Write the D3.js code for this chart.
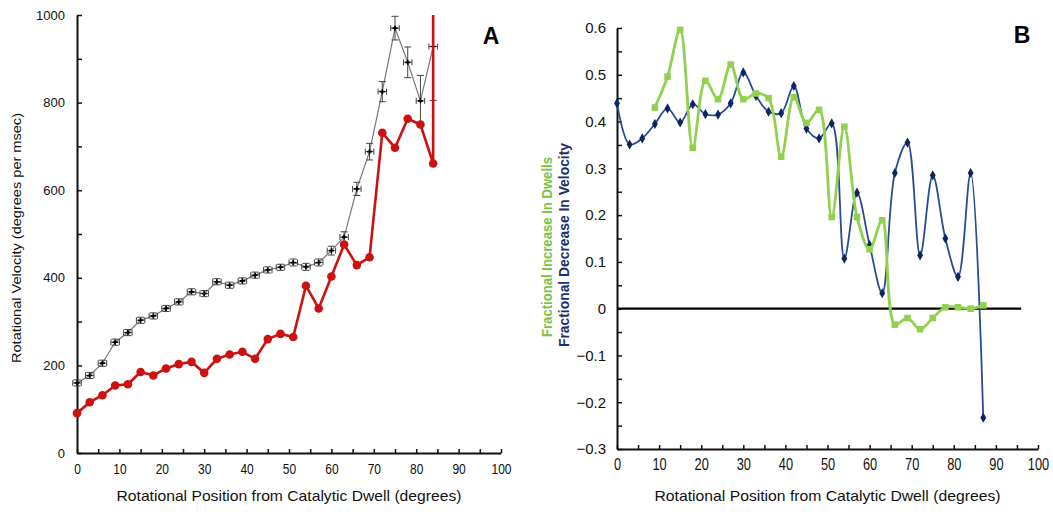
<!DOCTYPE html>
<html><head><meta charset="utf-8">
<script src="https://cdn.jsdelivr.net/npm/d3@7"></script>
<style>body{margin:0;background:#fff}svg{display:block}</style>
</head><body><svg id="c" width="1053" height="520"></svg>
<script>
// ---------- Panel A data ----------
const posA = [0,3,6,9,12,15,18,21,24,27,30,33,36,39,42,45,48,51,54,57,60,63,66,69,72,75,78,81,84];
const velGray = [160,177,205,253,275,303,313,330,345,368,364,391,383,393,406,418,424,435,425,435,462,493,603,688,825,970,892,804,928];
const errGrayY = [7,7,7,7,7,7,7,7,7,7,7,7,7,7,7,7,7,8,8,8,10,12,15,19,23,27,35,58,123];
const errGrayX = [1,1,1,1,1,1,1,1,1,1,1,1,1,1,1,1,1,1,1,1,1,1,1,1,1,1,1,1,1];
const posRed = [0,3,6,9,12,15,18,21,24,27,30,33,36,39,42,45,48,51,54,57,60,63,66,69,72,75,78,81,84,84];
const velRed = [91,116,132,154,157,185,177,193,203,208,183,215,225,231,215,260,272,265,382,330,403,476,429,447,731,697,763,750,661,1500];
const yTicksA = [0,100,200,300,400,500,600,700,800,900,1000];
const yLabelsA = [0,200,400,600,800,1000];
const xTicks = [0,5,10,15,20,25,30,35,40,45,50,55,60,65,70,75,80,85,90,95,100];
const xLabels = [0,10,20,30,40,50,60,70,80,90,100];

// ---------- Panel B data ----------
const posNavy = [0,3,6,9,12,15,18,21,24,27,30,33,36,39,42,45,48,51,54,57,60,63,66,69,72,75,78,81,84,87];
const fracVel = [0.439,0.351,0.364,0.395,0.428,0.398,0.437,0.416,0.415,0.439,0.505,0.455,0.421,0.418,0.476,0.385,0.364,0.396,0.107,0.248,0.136,0.033,0.290,0.355,0.114,0.285,0.150,0.068,0.290,-0.233];
const posGreen = [9,12,15,18,21,24,27,30,33,36,39,42,45,48,51,54,57,60,63,66,69,72,75,78,81,84,87];
const fracDwell = [0.430,0.496,0.596,0.344,0.487,0.448,0.522,0.448,0.460,0.450,0.325,0.452,0.397,0.425,0.196,0.389,0.196,0.127,0.189,-0.034,-0.020,-0.044,-0.020,0.003,0.003,0.000,0.007];
const yTicksB = [-0.3,-0.25,-0.2,-0.15,-0.1,-0.05,0,0.05,0.1,0.15,0.2,0.25,0.3,0.35,0.4,0.45,0.5,0.55,0.6];
const yLabelsB = [-0.3,-0.2,-0.1,0,0.1,0.2,0.3,0.4,0.5,0.6];
const zeroLineB = [0,96];

const svg = d3.select("#c");
svg.append("rect").attr("width",1053).attr("height",520).attr("fill","#fff");
const narrow = "'Liberation Sans Narrow','Arial Narrow','Liberation Sans',Arial,sans-serif";
const sans = "'Liberation Sans',Arial,sans-serif";

// ---------- Panel A ----------
const xA = d3.scaleLinear([0,100],[77,501]);
const yA = d3.scaleLinear([0,1000],[453,15]);
const gA = svg.append("g");
svg.append("defs").append("clipPath").attr("id","clipA").append("rect")
  .attr("x",xA(0)-8).attr("y",yA(1000)).attr("width",xA(100)-xA(0)+16).attr("height",yA(0)-yA(1000)+8);

const axA_y = gA.append("g").attr("transform",`translate(${xA(0)},0)`)
  .call(d3.axisLeft(yA).tickValues(yTicksA).tickSizeInner(-5).tickSizeOuter(0).tickPadding(12)
    .tickFormat(d => yLabelsA.includes(d) ? d : ""));
const axA_x = gA.append("g").attr("transform",`translate(0,${yA(0)})`)
  .call(d3.axisBottom(xA).tickValues(xTicks).tickSizeInner(-4).tickSizeOuter(0).tickPadding(10)
    .tickFormat(d => xLabels.includes(d) ? d : ""));
[axA_y, axA_x].forEach(a => {
  a.select(".domain").attr("stroke","#111").attr("stroke-width",2);
  a.selectAll(".tick line").attr("stroke","#111").attr("stroke-width",1.5);
});
axA_y.selectAll("text").attr("font-family",sans).attr("font-size",13).attr("fill","#111");
axA_x.selectAll("text").attr("font-family",narrow).attr("font-size",15).attr("fill","#111")
  .attr("transform","scale(0.8,1)");

const plotA = gA.append("g").attr("clip-path","url(#clipA)");
// gray series
plotA.append("path").datum(posA.map((p,i)=>[p,velGray[i]]))
  .attr("d", d3.line().x(d=>xA(d[0])).y(d=>yA(d[1])))
  .attr("fill","none").attr("stroke","#777").attr("stroke-width",1.2);
const eb = plotA.append("g").attr("stroke","#444").attr("stroke-width",1).attr("fill","none");
posA.forEach((p,i) => {
  const cx = xA(p), cy = yA(velGray[i]);
  const y1 = yA(velGray[i]-errGrayY[i]), y2 = yA(velGray[i]+errGrayY[i]);
  const x1 = xA(p-errGrayX[i]), x2 = xA(p+errGrayX[i]);
  eb.append("line").attr("x1",cx).attr("x2",cx).attr("y1",y1).attr("y2",y2);
  eb.append("line").attr("x1",cx-3.5).attr("x2",cx+3.5).attr("y1",y1).attr("y2",y1);
  eb.append("line").attr("x1",cx-3.5).attr("x2",cx+3.5).attr("y1",y2).attr("y2",y2);
  eb.append("line").attr("x1",x1).attr("x2",x2).attr("y1",cy).attr("y2",cy);
  eb.append("line").attr("x1",x1).attr("x2",x1).attr("y1",cy-3).attr("y2",cy+3);
  eb.append("line").attr("x1",x2).attr("x2",x2).attr("y1",cy-3).attr("y2",cy+3);
});
plotA.append("g").selectAll("path").data(posA.map((p,i)=>[p,velGray[i]])).join("path")
  .attr("transform",d=>`translate(${xA(d[0])},${yA(d[1])})`)
  .attr("d", d3.symbol(d3.symbolCross).size(14)).attr("fill","#000");
// red series
plotA.append("path").datum(posRed.map((p,i)=>[p,velRed[i]]))
  .attr("d", d3.line().x(d=>xA(d[0])).y(d=>yA(d[1])))
  .attr("fill","none").attr("stroke","#cc1111").attr("stroke-width",2.6);
plotA.append("g").selectAll("circle").data(posRed.map((p,i)=>[p,velRed[i]]).filter(d=>d[1]<=1000)).join("circle")
  .attr("cx",d=>xA(d[0])).attr("cy",d=>yA(d[1])).attr("r",4.3).attr("fill","#cc1111");

gA.append("text").attr("transform",`translate(21,${(yA(0)+yA(1000))/2+4}) rotate(-90)`)
  .attr("text-anchor","middle").attr("font-family",sans).attr("font-size",13).attr("fill","#111")
  .attr("textLength",250).attr("lengthAdjust","spacingAndGlyphs")
  .text("Rotational Velocity (degrees per msec)");
gA.append("text").attr("x",(xA(0)+xA(100))/2).attr("y",501).attr("text-anchor","middle")
  .attr("font-family",narrow).attr("font-size",15).attr("fill","#111")
  .attr("textLength",345).attr("lengthAdjust","spacingAndGlyphs")
  .text("Rotational Position from Catalytic Dwell  (degrees)");
gA.append("text").attr("x",491).attr("y",44).attr("text-anchor","middle")
  .attr("font-family",sans).attr("font-weight","bold").attr("font-size",23).attr("fill","#000").text("A");

// ---------- Panel B ----------
const xB = d3.scaleLinear([0,100],[617,1038]);
const yB = d3.scaleLinear([-0.3,0.6],[449,28]);
const gB = svg.append("g");
const axB_y = gB.append("g").attr("transform",`translate(${xB(0)},0)`)
  .call(d3.axisLeft(yB).tickValues(yTicksB).tickSizeInner(-5).tickSizeOuter(0).tickPadding(11)
    .tickFormat(d => yLabelsB.some(v=>Math.abs(v-d)<1e-9) ? (Math.abs(d)<1e-9 ? "0" : d3.format(".1f")(d)) : ""));
const axB_x = gB.append("g").attr("transform",`translate(0,${yB(-0.3)})`)
  .call(d3.axisBottom(xB).tickValues(xTicks).tickSizeInner(-4).tickSizeOuter(0).tickPadding(10)
    .tickFormat(d => xLabels.includes(d) ? d : ""));
[axB_y, axB_x].forEach(a => {
  a.select(".domain").attr("stroke","#111").attr("stroke-width",2);
  a.selectAll(".tick line").attr("stroke","#111").attr("stroke-width",1.5);
});
axB_y.selectAll("text").attr("font-family",sans).attr("font-size",15).attr("fill","#111");
axB_x.selectAll("text").attr("font-family",narrow).attr("font-size",16).attr("fill","#111")
  .attr("transform","scale(0.8,1)");

gB.append("line").attr("x1",xB(zeroLineB[0])).attr("x2",xB(zeroLineB[1]))
  .attr("y1",yB(0)).attr("y2",yB(0)).attr("stroke","#000").attr("stroke-width",2.2);

const curve = d3.curveCatmullRom.alpha(0.5);
const navyD = posNavy.map((p,i)=>[p,fracVel[i]]);
const greenD = posGreen.map((p,i)=>[p,fracDwell[i]]);
gB.append("path").datum(navyD).attr("d", d3.line().x(d=>xB(d[0])).y(d=>yB(d[1])).curve(curve))
  .attr("fill","none").attr("stroke","#2b4c93").attr("stroke-width",1.8);
gB.append("g").selectAll("path").data(navyD).join("path")
  .attr("transform",d=>`translate(${xB(d[0])},${yB(d[1])})`)
  .attr("d", d3.symbol(d3.symbolDiamond).size(30)).attr("fill","#0c2660");
gB.append("path").datum(greenD).attr("d", d3.line().x(d=>xB(d[0])).y(d=>yB(d[1])).curve(curve))
  .attr("fill","none").attr("stroke","#92d050").attr("stroke-width",2.8);
gB.append("g").selectAll("rect").data(greenD).join("rect")
  .attr("x",d=>xB(d[0])-3.3).attr("y",d=>yB(d[1])-3.3).attr("width",6.6).attr("height",6.6)
  .attr("fill","#92d050");

gB.append("text").attr("transform",`translate(552,247) rotate(-90)`)
  .attr("text-anchor","middle").attr("font-family",narrow).attr("font-weight","bold").attr("font-size",15)
  .attr("fill","#7ec244").attr("textLength",180).attr("lengthAdjust","spacingAndGlyphs")
  .text("Fractional Increase In Dwells");
gB.append("text").attr("transform",`translate(569,245) rotate(-90)`)
  .attr("text-anchor","middle").attr("font-family",narrow).attr("font-weight","bold").attr("font-size",15)
  .attr("fill","#1a2f6e").attr("textLength",204).attr("lengthAdjust","spacingAndGlyphs")
  .text("Fractional Decrease In Velocity");
gB.append("text").attr("x",(xB(0)+xB(100))/2).attr("y",501).attr("text-anchor","middle")
  .attr("font-family",narrow).attr("font-size",15).attr("fill","#111")
  .attr("textLength",346).attr("lengthAdjust","spacingAndGlyphs")
  .text("Rotational Position from Catalytic Dwell  (degrees)");
gB.append("text").attr("x",1022).attr("y",43).attr("text-anchor","middle")
  .attr("font-family",sans).attr("font-weight","bold").attr("font-size",23).attr("fill","#000").text("B");
</script></body></html>
